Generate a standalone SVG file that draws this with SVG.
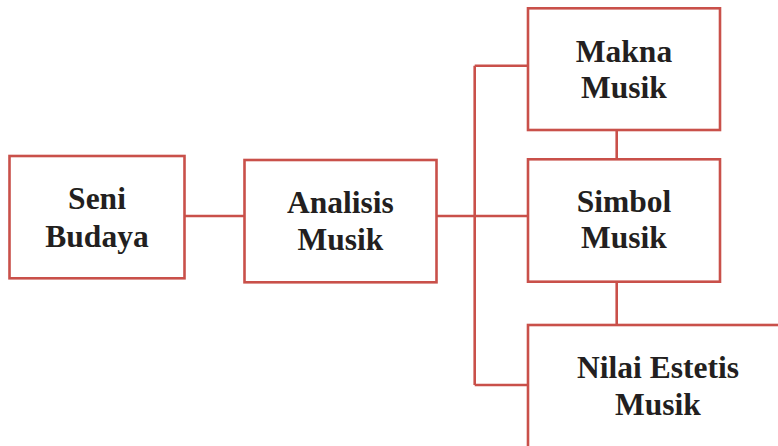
<svg xmlns="http://www.w3.org/2000/svg" width="778" height="446" viewBox="0 0 778 446">
<style>
.box{fill:#fff;stroke:#c9504a;stroke-width:2.6}
.ln{fill:none;stroke:#c9504a;stroke-width:2.6}
.t{font-family:"Liberation Serif","Times New Roman",serif;font-weight:bold;font-size:31.5px;fill:#231f20;text-anchor:middle}
</style>
<rect width="778" height="446" fill="#fff"/>
<g id="connectors">
<path class="ln" d="M184.5 216H244.5"/>
<path class="ln" d="M436.5 216H528"/>
<path class="ln" d="M474.7 65.7V385"/>
<path class="ln" d="M474.7 65.7H528"/>
<path class="ln" d="M474.7 385H528"/>
<path class="ln" d="M616.7 130V159.3"/>
<path class="ln" d="M616.7 281.7V325"/>
</g>
<g id="seni-budaya">
<rect class="box" x="9.5" y="156" width="175" height="122.3"/>
<text class="t" x="97" y="209">Seni</text>
<text class="t" x="97" y="247">Budaya</text>
</g>
<g id="analisis-musik">
<rect class="box" x="244.5" y="160" width="192" height="122.3"/>
<text class="t" x="340.5" y="212.5">Analisis</text>
<text class="t" x="340.5" y="250">Musik</text>
</g>
<g id="makna-musik">
<rect class="box" x="528" y="8.3" width="192" height="121.7"/>
<text class="t" x="624" y="61.5">Makna</text>
<text class="t" x="624" y="98.3">Musik</text>
</g>
<g id="simbol-musik">
<rect class="box" x="528" y="159.3" width="192" height="122.4"/>
<text class="t" x="624" y="212.3">Simbol</text>
<text class="t" x="624" y="248.3">Musik</text>
</g>
<g id="nilai-estetis-musik">
<rect class="box" x="528" y="325" width="260" height="140"/>
<text class="t" x="658" y="378.3">Nilai Estetis</text>
<text class="t" x="658" y="415">Musik</text>
</g>
</svg>
